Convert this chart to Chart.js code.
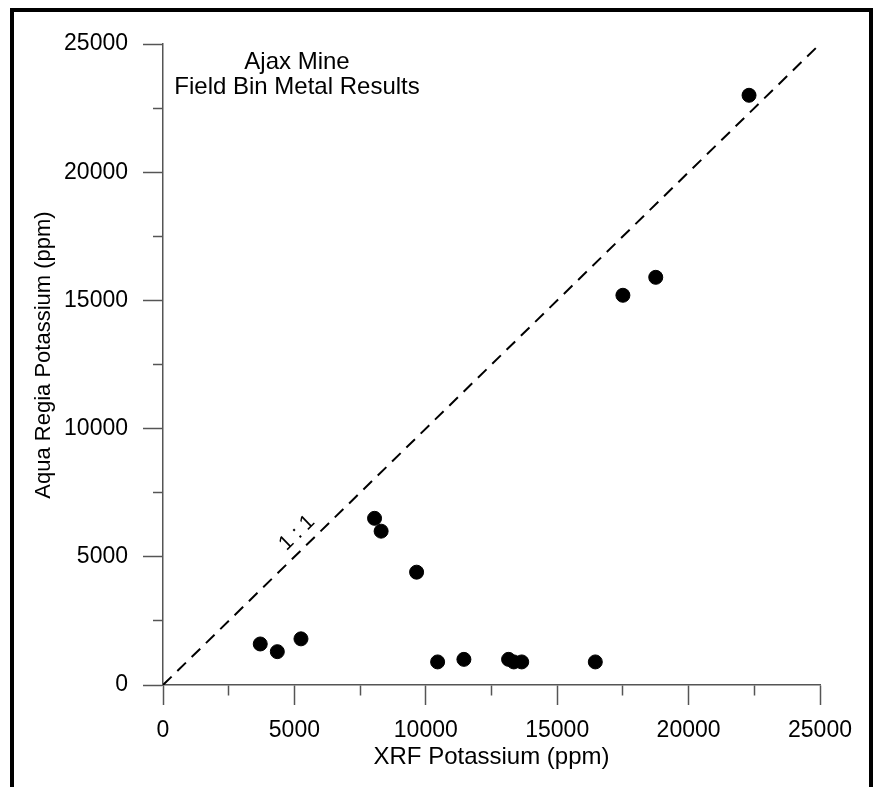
<!DOCTYPE html>
<html>
<head>
<meta charset="utf-8">
<script src="https://cdn.jsdelivr.net/npm/chart.js@4.4.0/dist/chart.umd.min.js"></script>
<style>
  html, body { margin: 0; padding: 0; background: #fff; overflow: hidden; }
  #wrap { position: relative; width: 873px; height: 787px; }
  #frame { position: absolute; left: 10px; top: 8px; right: 0; bottom: -10px; border: 4px solid #000; pointer-events: none; }
</style>
</head>
<body>
<div id="wrap"><canvas id="chart"></canvas><div id="frame"></div></div>
<script>
// XRF vs aqua regia potassium, ppm
const xrfK  = [3700, 4350, 5250, 8050, 8300, 9650, 10450, 11450, 13150, 13350, 13650, 16450, 17500, 18750, 22300];
const aquaK = [1600, 1300, 1800, 6500, 6000, 4400,   900,  1000,  1000,   900,   900,   900, 15200, 15900, 23000];

// 1:1 reference line
const lineX = [0, 25000];
const lineY = [0, 25000];

const axisMin = 0, axisMax = 25000;
const minorStep = 2500, majorStep = 5000;

const titleLines = ['Ajax Mine', 'Field Bin Metal Results'];
const ratioText = '1 : 1';
const yTitle = 'Aqua Regia Potassium (ppm)';

const FONT = '"Liberation Sans", Arial, sans-serif';
const axisColor = '#555';

const points = xrfK.map((v, i) => ({x: v, y: aquaK[i]}));
const line = lineX.map((v, i) => ({x: v, y: lineY[i]}));

const isMinor = ctx => ctx.tick && ctx.tick.value % majorStep !== 0;

const notes = {
  id: 'notes',
  afterDatasetsDraw(chart) {
    const {ctx, scales: {x, y}} = chart;
    ctx.save();
    ctx.fillStyle = '#000';
    ctx.textAlign = 'center';
    ctx.textBaseline = 'middle';

    ctx.font = '24px ' + FONT;
    const cx = x.getPixelForValue(5100);
    let cy = y.getPixelForValue(24270);
    titleLines.forEach(t => { ctx.fillText(t, cx, cy); cy += 25; });

    // y axis title (sits a little above the axis centre)
    ctx.save();
    ctx.font = '22px ' + FONT;
    ctx.translate(44, y.getPixelForValue(12870));
    ctx.rotate(-Math.PI / 2);
    ctx.fillText(yTitle, 0, 0);
    ctx.restore();

    // label along the 1:1 line
    const ang = Math.atan2(y.getPixelForValue(axisMax) - y.getPixelForValue(axisMin),
                           x.getPixelForValue(axisMax) - x.getPixelForValue(axisMin));
    ctx.translate(x.getPixelForValue(5100), y.getPixelForValue(5930));
    ctx.rotate(ang);
    ctx.font = '21px ' + FONT;
    ctx.fillText(ratioText, 0, 0);
    ctx.restore();
  }
};

new Chart(document.getElementById('chart'), {
  type: 'scatter',
  data: {
    datasets: [
      {
        type: 'line', data: line, borderColor: '#000', borderWidth: 2,
        borderDash: [12, 8], pointRadius: 0, fill: false
      },
      {
        data: points, backgroundColor: '#000', borderColor: '#000',
        pointRadius: 7, pointHoverRadius: 7
      }
    ]
  },
  options: {
    responsive: true,
    maintainAspectRatio: false,
    animation: false,
    events: [],
    layout: { padding: { top: 44, right: 53, bottom: 0, left: 0 } },
    plugins: { legend: { display: false }, tooltip: { enabled: false } },
    scales: {
      x: {
        type: 'linear', min: axisMin, max: axisMax,
        afterFit: s => { s.height = 102; },
        border: { display: true, color: axisColor, width: 1.5 },
        // minor ticks only show the first 10px of the 20px tick
        grid: { drawOnChartArea: false, tickLength: 20, tickColor: axisColor, tickWidth: 1.5,
                tickBorderDash: ctx => isMinor(ctx) ? [10, 40] : [] },
        ticks: {
          stepSize: minorStep, padding: 12, color: '#000', maxRotation: 0, autoSkip: false,
          font: { family: FONT, size: 23 },
          callback: v => v % majorStep === 0 ? String(v) : ''
        },
        title: { display: true, text: 'XRF Potassium (ppm)', color: '#000',
                 font: { family: FONT, size: 24 }, padding: { top: 0, bottom: 15 } }
      },
      y: {
        type: 'linear', min: axisMin, max: axisMax,
        afterFit: s => { s.width = 163; },
        border: { display: true, color: axisColor, width: 1.5 },
        grid: { drawOnChartArea: false, tickLength: 20, tickColor: axisColor, tickWidth: 1.5,
                tickBorderDash: ctx => isMinor(ctx) ? [10, 10] : [],
                tickBorderDashOffset: ctx => isMinor(ctx) ? 10 : 0 },
        ticks: {
          stepSize: minorStep, padding: 15, color: '#000', autoSkip: false,
          font: { family: FONT, size: 23 },
          callback: v => v % majorStep === 0 ? String(v) : ''
        },
        title: { display: false }
      }
    }
  },
  plugins: [notes]
});
</script>
</body>
</html>
